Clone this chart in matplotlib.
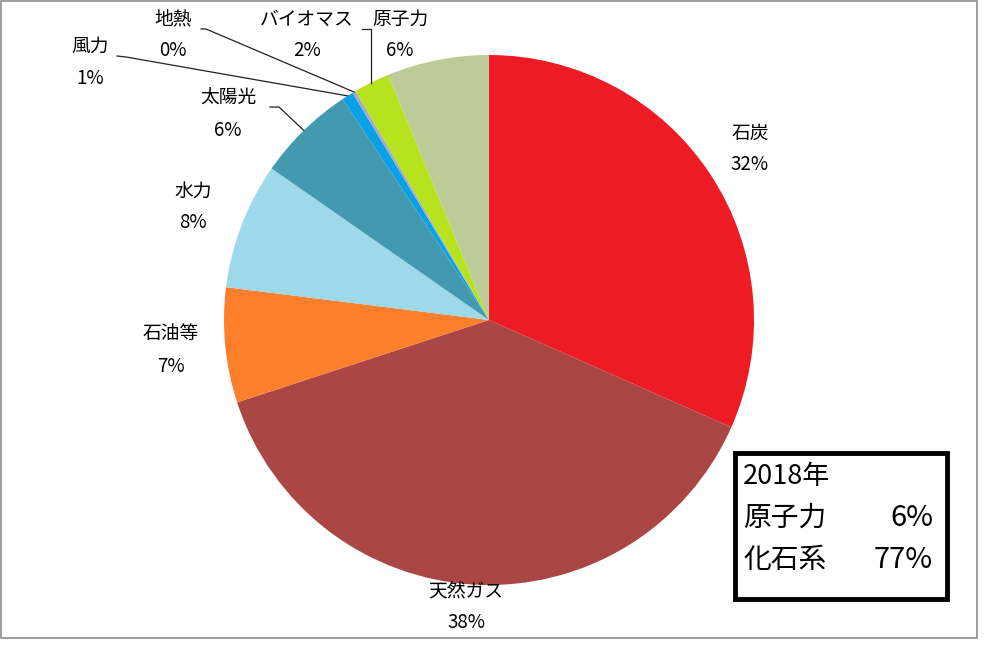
import numpy as np
import matplotlib
matplotlib.use('Agg')
import matplotlib.pyplot as plt
from matplotlib.patches import Rectangle

# ================= Data Section =================
sources = ['石炭', '天然ガス', '石油等', '水力', '太陽光', '風力', '地熱', 'バイオマス', '原子力']
shares = [31.6, 38.3, 7.0, 7.7, 6.0, 0.7, 0.2, 2.2, 6.2]
pct_labels = ['32%', '38%', '7%', '8%', '6%', '1%', '0%', '2%', '6%']
colors = ['#ED1C24', '#AA4644', '#FD7F2C', '#9DD9EA', '#4399AF',
          '#0AA0E6', '#A2A9C9', '#B6E21E', '#BBCC98']

box_year = '2018年'
box_rows = [('原子力', '6%'), ('化石系', '77%')]

# ================= Style Configuration =================
plt.rcParams['font.family'] = ['Noto Sans CJK JP', 'DejaVu Sans']

W, H = 1001, 656
fig = plt.figure(figsize=(W / 100, H / 100), dpi=100)
ax = fig.add_axes([0, 0, 1, 1])

def py(y):
    # image pixel row -> data y
    return H - y

# ================= Pie =================
cx, cy, r = 489, py(320), 265
wedges, _ = ax.pie(shares, colors=colors, startangle=90, counterclock=False,
                   center=(cx, cy), radius=r, frame=True,
                   wedgeprops=dict(linewidth=0))
ax.set_xlim(0, W)
ax.set_ylim(0, H)
ax.set_aspect('equal')
ax.axis('off')

# chart frame
ax.add_patch(Rectangle((1, py(638)), 976, 637, fill=False, edgecolor='#8c8c8c', linewidth=1.2))

# label positions (name centre) in image pixels
label_pos = {
    '石炭': (750, 133),
    '天然ガス': (466, 591),
    '石油等': (171, 334),
    '水力': (193, 191),
    '太陽光': (228, 98),
    '風力': (90, 46),
    '地熱': (173, 19),
    'バイオマス': (307, 19),
    '原子力': (400, 19),
}

for name, pct in zip(sources, pct_labels):
    x, y = label_pos[name]
    ax.text(x, py(y), name, ha='center', va='center', fontsize=13.5, color='black')
    ax.text(x, py(y + 32), pct, ha='center', va='center', fontsize=13.5, color='black')

# leader lines for the small slices: (start point in pixels, elbow)
leaders = {
    '太陽光': ((270, 107), (279, 107)),
    '風力': ((117, 56), (126, 57)),
    '地熱': ((201, 29), (206, 29)),
    'バイオマス': ((362, 29), (371, 29)),
}
for name, (p0, p1) in leaders.items():
    w = wedges[sources.index(name)]
    mid = np.deg2rad((w.theta1 + w.theta2) / 2)
    ex, ey = cx + r * np.cos(mid), cy + r * np.sin(mid)
    if name == 'バイオマス':
        ex = p1[0]
        ey = cy + np.sqrt(r ** 2 - (ex - cx) ** 2)
    ax.plot([p0[0], p1[0], ex], [py(p0[1]), py(p1[1]), ey], color='#222222', linewidth=0.9)

# ================= Summary box =================
ax.add_patch(Rectangle((735, py(599)), 212, 146, fill=True, facecolor='white',
                       edgecolor='black', linewidth=3.5, zorder=5))
ax.text(743, py(476), box_year, ha='left', va='center', fontsize=19.5, zorder=6)
for i, (k, v) in enumerate(box_rows):
    yy = py(518 + 42 * i)
    ax.text(743, yy, k, ha='left', va='center', fontsize=20, zorder=6)
    ax.text(933, yy, v, ha='right', va='center', fontsize=21, zorder=6)

fig.savefig('out.png', dpi=100)
